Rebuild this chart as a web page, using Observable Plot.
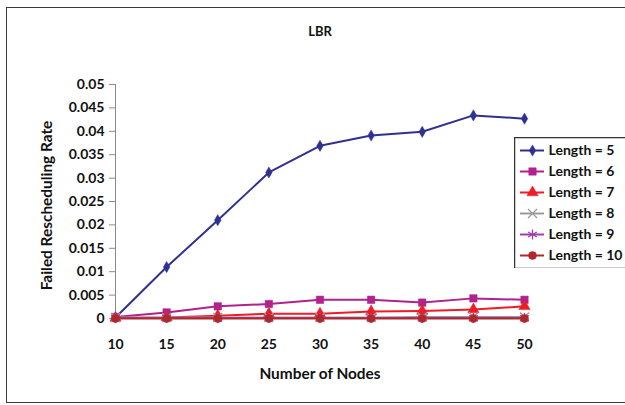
<!DOCTYPE html>
<html><head><meta charset="utf-8">
<script src="https://cdn.jsdelivr.net/npm/d3@7"></script>
<script src="https://cdn.jsdelivr.net/npm/@observablehq/plot@0.6"></script>
<style>
body{margin:0;background:#fff;}
#wrap{position:relative;width:625px;height:405px;overflow:hidden;font-family:Lato,sans-serif;background:#fff;}
#frame{position:absolute;left:6px;top:7px;width:650px;height:396px;border:1.5px solid #3a3a3a;box-sizing:border-box;}
#chart{position:absolute;left:0;top:0;width:625px;}
#legend{position:absolute;left:514px;top:137px;width:125px;}
#wrap svg{max-width:none !important;}
</style></head><body>
<div id="wrap"><div id="frame"></div><div id="chart"></div><div id="legend"></div></div>
<script>
// ---- data ----
const nodes = [10, 15, 20, 25, 30, 35, 40, 45, 50];
const len5  = [0.0002, 0.011, 0.021, 0.0312, 0.0369, 0.0391, 0.0399, 0.0434, 0.0427];
const len6  = [0.0003, 0.0013, 0.0026, 0.0031, 0.0040, 0.0040, 0.0034, 0.0043, 0.0040];
const len7  = [0.0001, 0.0002, 0.0006, 0.0010, 0.0010, 0.0015, 0.0016, 0.0019, 0.0026];
const len8  = [0.0002, 0.0002, 0.0002, 0.0002, 0.0002, 0.0002, 0.0003, 0.0003, 0.0003];
const len9  = [0.0001, 0.0001, 0.0001, 0.0001, 0.0001, 0.0001, 0.0001, 0.0001, 0.0001];
const len10 = [0, 0, 0, 0, 0, 0, 0, 0, 0];
const seriesNames = ["Length = 5", "Length = 6", "Length = 7", "Length = 8", "Length = 9", "Length = 10"];
const seriesValues = [len5, len6, len7, len8, len9, len10];
const yTicks = [0, 0.005, 0.01, 0.015, 0.02, 0.025, 0.03, 0.035, 0.04, 0.045, 0.05];
const yTickLabels = ["0", "0.005", "0.01", "0.015", "0.02", "0.025", "0.03", "0.035", "0.04", "0.045", "0.05"];
const xTickLabels = ["10", "15", "20", "25", "30", "35", "40", "45", "50"];
const title = "LBR";
const xLabel = "Number of Nodes";
const yLabel = "Failed Rescheduling Rate";

// ---- styles ----
const colors  = ["#2E3192", "#B0228C", "#EE1C25", "#9A9A9A", "#A040B0", "#B0282C"];
const symbols = ["diamond", "square", "triangle", "times", "asterisk", "circle"];
const filled  = [true, true, true, false, false, true];
const dotR    = [3.4, 4.2, 4.2, 4.2, 4.8, 4.0];
const font = "Lato, sans-serif";

const rows = seriesNames.flatMap((s, i) => nodes.map((n, j) => ({series: s, x: n, y: seriesValues[i][j]})));

const marks = [
  Plot.ruleX([10], {y1: 0, y2: 0.05, stroke: "#8a8a8a", strokeWidth: 1}),
  Plot.axisY(yTicks, {tickSize: 6, tickPadding: 5, stroke: "#8a8a8a",
    tickFormat: d => yTickLabels[yTicks.indexOf(d)], fontSize: 14, fontWeight: "bold", fill: "#111", label: null}),
  Plot.axisX(nodes, {tickSize: 0, tickPadding: 21,
    tickFormat: d => xTickLabels[nodes.indexOf(d)], fontSize: 14, fontWeight: "bold", fill: "#111", label: null}),
];
seriesNames.forEach((s, i) => {
  const d = rows.filter(r => r.series === s);
  marks.push(Plot.line(d, {x: "x", y: "y", stroke: colors[i], strokeWidth: 2}));
  marks.push(Plot.dot(d, {x: "x", y: "y", symbol: () => symbols[i], r: dotR[i],
    fill: filled[i] ? colors[i] : "none", stroke: colors[i], strokeWidth: filled[i] ? 0.5 : 1.3}));
});
marks.push(Plot.text([title], {frameAnchor: "top", dy: -58, fontSize: 13, fontWeight: "bold", fill: "#111"}));
marks.push(Plot.text([xLabel], {frameAnchor: "bottom", dy: 60, fontSize: 15.4, fontWeight: "bold", fill: "#111"}));
marks.push(Plot.text([yLabel], {frameAnchor: "left", dx: -68, dy: 4, rotate: -90, textAnchor: "middle",
  fontSize: 15.4, fontWeight: "bold", fill: "#111"}));

const chart = Plot.plot({
  width: 625, height: 405,
  marginLeft: 115, marginRight: 101, marginTop: 84, marginBottom: 87,
  style: {fontFamily: font, background: "transparent", overflow: "visible"},
  x: {domain: [10, 50]},
  y: {domain: [0, 0.05]},
  symbol: {type: "identity"},
  marks
});
document.getElementById("chart").append(chart);

// ---- legend ----
const lmarks = [Plot.frame({stroke: "#333", strokeWidth: 1.5})];
seriesNames.forEach((s, i) => {
  lmarks.push(Plot.ruleY([s], {y: d => d, x1: 6, x2: 30, stroke: colors[i], strokeWidth: 2}));
  lmarks.push(Plot.dot([s], {x: () => 18, y: d => d, symbol: () => symbols[i], r: dotR[i],
    fill: filled[i] ? colors[i] : "none", stroke: colors[i], strokeWidth: filled[i] ? 0.5 : 1.3}));
  lmarks.push(Plot.text([s], {x: () => 34, y: d => d, text: d => d, textAnchor: "start",
    fontSize: 14, fontWeight: "bold", fill: "#111"}));
});
const legend = Plot.plot({
  width: 125, height: 131, margin: 0,
  style: {fontFamily: font, background: "transparent"},
  x: {type: "identity", axis: null},
  y: {type: "point", domain: seriesNames, range: [13, 118], padding: 0, axis: null},
  symbol: {type: "identity"},
  marks: lmarks
});
document.getElementById("legend").append(legend);
</script>
</body></html>
